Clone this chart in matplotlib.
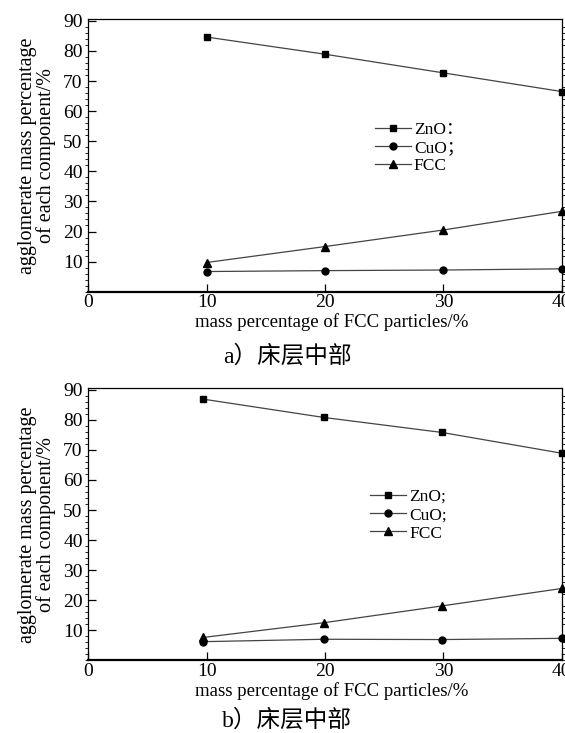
import matplotlib
matplotlib.use("Agg")
import matplotlib.pyplot as plt
from matplotlib.ticker import AutoMinorLocator

# data
x_top = [10, 20, 30, 40]
zno_top = [84.6, 78.9, 72.7, 66.5]
cuo_top = [6.7, 7.0, 7.2, 7.6]
fcc_top = [9.7, 15.0, 20.5, 26.7]

x_bot = [9.7, 19.9, 29.9, 40]
zno_bot = [86.9, 80.8, 75.8, 68.9]
cuo_bot = [6.2, 7.0, 6.9, 7.3]
fcc_bot = [7.6, 12.5, 18.1, 23.9]

labels_top = ["ZnO：", "CuO；", "FCC"]
labels_bot = ["ZnO;", "CuO;", "FCC"]
captions = ["a）床层中部", "b）床层中部"]

y_ticks = [10, 20, 30, 40, 50, 60, 70, 80, 90]
x_ticks = [0, 10, 20, 30, 40]

plt.rcParams["font.family"] = ["Liberation Serif", "Noto Sans CJK SC"]

fig = plt.figure(figsize=(5.65, 7.33), dpi=100)

W, H = 565.0, 733.0


def make_axes(left, top, right, bottom):
    return fig.add_axes([left / W, 1 - bottom / H, (right - left) / W, (bottom - top) / H])


def draw_panel(ax, xs, zno, cuo, fcc, labels, leg_anchor):
    line_kw = dict(color="#444444", lw=0.9, markerfacecolor="black",
                   markeredgecolor="black", clip_on=False)
    ax.plot(xs, zno, marker="s", ms=4.5, label=labels[0], **line_kw)
    ax.plot(xs, cuo, marker="o", ms=5, label=labels[1], **line_kw)
    ax.plot(xs, fcc, marker="^", ms=5.5, label=labels[2], **line_kw)

    ax.set_xlim(0, 40)
    ax.set_ylim(0, 90.5)
    ax.set_xticks(x_ticks)
    ax.set_yticks(y_ticks)
    ax.yaxis.set_minor_locator(AutoMinorLocator(5))
    ax.tick_params(axis="both", which="major", direction="in", length=6,
                   width=0.9, labelsize=14, pad=2)
    ax.tick_params(axis="y", which="major", pad=4)
    ax.tick_params(axis="y", which="minor", direction="out", length=2,
                   width=0.6, right=True)
    ax.tick_params(axis="x", which="minor", bottom=False)
    for s in ["left", "top", "right"]:
        ax.spines[s].set_linewidth(0.9)
    ax.spines["bottom"].set_linewidth(1.6)

    ax.set_xlabel("mass percentage of FCC particles/%", fontsize=13.5)
    ax.xaxis.set_label_coords(0.515, -0.08)
    ax.set_ylabel("agglomerate mass percentage\nof each component/%",
                  fontsize=14.5, labelpad=5, linespacing=0.95)

    ax.legend(loc="upper left", bbox_to_anchor=leg_anchor, frameon=False,
              fontsize=12.5, handlelength=2.1, handletextpad=0.15,
              labelspacing=0.12, borderpad=0, borderaxespad=0)


ax1 = make_axes(88.3, 19.3, 561.7, 291.7)
draw_panel(ax1, x_top, zno_top, cuo_top, fcc_top, labels_top, (0.605, 0.625))

ax2 = make_axes(88.3, 388.3, 561.7, 660.3)
draw_panel(ax2, x_bot, zno_bot, cuo_bot, fcc_bot, labels_bot, (0.595, 0.63))

fig.text(287 / W, 1 - 356 / H, captions[0], ha="center", va="center", fontsize=17)
fig.text(287 / W, 1 - 720 / H, captions[1], ha="center", va="center", fontsize=17)

fig.savefig("out.png", dpi=100)
